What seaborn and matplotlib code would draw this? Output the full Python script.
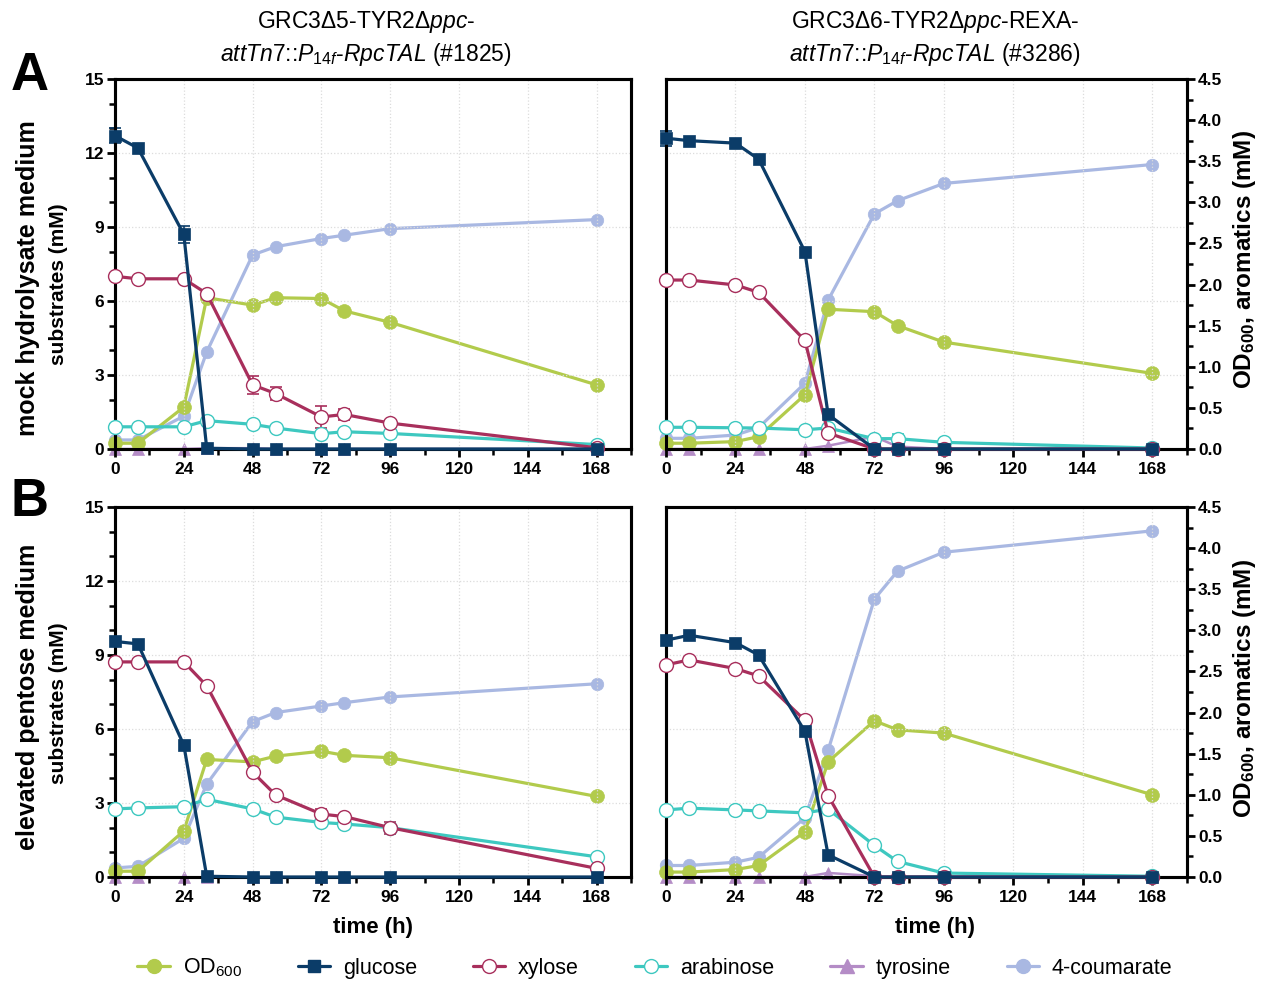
import numpy as np
import pandas as pd
import matplotlib
matplotlib.use("Agg")
import matplotlib.pyplot as plt
import seaborn as sns
from matplotlib.lines import Line2D
from matplotlib.ticker import MultipleLocator

# ---------------- data ----------------
time_h = [0, 8, 24, 32, 48, 56, 72, 80, 96, 168]

# Panel A, left (#1825, mock hydrolysate medium)
A1_od600 = [0.07, 0.07, 0.51, 1.84, 1.75, 1.84, 1.83, 1.68, 1.54, 0.78]
A1_glucose = [12.7, 12.2, 8.7, 0.03, 0.0, 0.0, 0.0, 0.0, 0.0, 0.0]
A1_xylose = [7.0, 6.9, 6.9, 6.3, 2.6, 2.25, 1.3, 1.4, 1.05, 0.05]
A1_arabinose = [0.9, 0.9, 0.9, 1.15, 1.0, 0.85, 0.62, 0.7, 0.63, 0.18]
A1_tyrosine = [0.0, 0.0, 0.0, 0.01, 0.01, 0.0, 0.0, 0.0, 0.0, 0.0]
A1_coumarate = [0.11, 0.11, 0.40, 1.18, 2.36, 2.46, 2.56, 2.60, 2.68, 2.79]
A1_glucose_err = [0.3, 0.0, 0.35, 0, 0, 0, 0, 0, 0, 0]
A1_xylose_err = [0, 0, 0, 0, 0.35, 0.25, 0.45, 0.22, 0, 0]

# Panel A, right (#3286, mock hydrolysate medium)
A2_od600 = [0.07, 0.07, 0.09, 0.15, 0.66, 1.70, 1.67, 1.50, 1.30, 0.92]
A2_glucose = [12.6, 12.5, 12.4, 11.75, 8.0, 1.4, 0.0, 0.0, 0.0, 0.0]
A2_xylose = [6.85, 6.85, 6.65, 6.35, 4.4, 0.65, 0.0, 0.0, 0.0, 0.0]
A2_arabinose = [0.88, 0.88, 0.86, 0.85, 0.78, 0.85, 0.42, 0.42, 0.27, 0.04]
A2_tyrosine = [0.0, 0.0, 0.0, 0.0, 0.0, 0.04, 0.15, 0.03, 0.0, 0.0]
A2_coumarate = [0.13, 0.13, 0.17, 0.26, 0.80, 1.81, 2.86, 3.02, 3.23, 3.46]
A2_glucose_err = [0.3, 0, 0, 0, 0, 0, 0, 0, 0, 0]
A2_arabinose_err = [0, 0, 0, 0, 0, 0, 0, 0.2, 0, 0]

# Panel B, left (#1825, elevated pentose medium)
B1_od600 = [0.07, 0.07, 0.56, 1.43, 1.40, 1.47, 1.53, 1.48, 1.45, 0.98]
B1_glucose = [9.55, 9.45, 5.35, 0.03, 0.0, 0.0, 0.0, 0.0, 0.0, 0.0]
B1_xylose = [8.72, 8.72, 8.72, 7.75, 4.25, 3.33, 2.55, 2.45, 2.0, 0.35]
B1_arabinose = [2.76, 2.8, 2.85, 3.15, 2.76, 2.43, 2.21, 2.15, 2.0, 0.82]
B1_tyrosine = [0.0, 0.0, 0.0, 0.0, 0.0, 0.0, 0.0, 0.0, 0.0, 0.0]
B1_coumarate = [0.11, 0.13, 0.47, 1.13, 1.89, 2.00, 2.08, 2.12, 2.19, 2.35]
B1_xylose_err = [0, 0, 0, 0, 0, 0, 0.2, 0, 0.25, 0]

# Panel B, right (#3286, elevated pentose medium)
B2_od600 = [0.06, 0.06, 0.09, 0.14, 0.55, 1.40, 1.90, 1.79, 1.75, 1.00]
B2_glucose = [9.6, 9.8, 9.5, 9.0, 5.9, 0.9, 0.0, 0.0, 0.0, 0.0]
B2_xylose = [8.6, 8.8, 8.45, 8.15, 6.35, 3.3, 0.0, 0.0, 0.0, 0.0]
B2_arabinose = [2.72, 2.79, 2.72, 2.68, 2.6, 2.75, 1.28, 0.63, 0.16, 0.03]
B2_tyrosine = [0.0, 0.0, 0.0, 0.0, 0.0, 0.05, 0.01, 0.0, 0.0, 0.0]
B2_coumarate = [0.14, 0.14, 0.18, 0.24, 0.72, 1.54, 3.38, 3.72, 3.95, 4.21]

x_ticks = [0, 24, 48, 72, 96, 120, 144, 168]
left_ticks = [0, 3, 6, 9, 12, 15]
right_ticks = [0.0, 0.5, 1.0, 1.5, 2.0, 2.5, 3.0, 3.5, 4.0, 4.5]

legend_labels = ["OD$_{600}$", "glucose", "xylose", "arabinose", "tyrosine", "4-coumarate"]

titles_left = [r"GRC3Δ5-TYR2Δ$\mathit{ppc}$-",
               r"$\mathit{attTn7}$::$\mathit{P}_{\mathit{14f}}$-$\mathit{RpcTAL}$ (#1825)"]
titles_right = [r"GRC3Δ6-TYR2Δ$\mathit{ppc}$-REXA-",
                r"$\mathit{attTn7}$::$\mathit{P}_{\mathit{14f}}$-$\mathit{RpcTAL}$ (#3286)"]
row_labels = ["mock hydrolysate medium", "elevated pentose medium"]

# ---------------- style ----------------
sns.set_theme(style="white")
plt.rcParams["font.family"] = ["Liberation Sans", "DejaVu Sans"]
plt.rcParams["mathtext.fontset"] = "custom"
plt.rcParams["mathtext.rm"] = "Liberation Sans"
plt.rcParams["mathtext.it"] = "Liberation Sans:italic"
plt.rcParams["mathtext.bf"] = "Liberation Sans:bold"
plt.rcParams["text.color"] = "black"
plt.rcParams["axes.labelcolor"] = "black"
plt.rcParams["xtick.color"] = "black"
plt.rcParams["ytick.color"] = "black"

C_OD = "#b2cb4c"
C_GLC = "#0b3c68"
C_XYL = "#a82f5c"
C_ARA = "#3ec8c0"
C_TYR = "#b48cc6"
C_CUM = "#a9b8e2"

W, H = 1266, 983
fig = plt.figure(figsize=(W / 100, H / 100), dpi=100)


def fx(px):
    return px / W


def fy(py):
    return 1 - py / H


def add_err(ax, vals, err, color):
    xs = [t for t, e in zip(time_h, err) if e > 0]
    ys = [v for v, e in zip(vals, err) if e > 0]
    es = [e for e in err if e > 0]
    if xs:
        ax.errorbar(xs, ys, yerr=es, fmt="none", ecolor=color, elinewidth=1.2,
                    capsize=4, capthick=1.2, zorder=2, clip_on=False)


def panel(rect, od, glc, xyl, ara, tyr, cum, is_left, errs):
    ax = fig.add_axes(rect)
    ax2 = ax.twinx()
    ax.set_zorder(ax2.get_zorder() + 1)
    ax.patch.set_visible(False)

    # aromatics / OD on right scale
    sns.lineplot(x=time_h, y=cum, ax=ax2, color=C_CUM, marker="o", markersize=9,
                 markeredgecolor=C_CUM, markeredgewidth=0.5, linewidth=2.3,
                 errorbar=None, clip_on=False, zorder=2)
    sns.lineplot(x=time_h, y=tyr, ax=ax2, color=C_TYR, marker="^", markersize=9,
                 markeredgecolor=C_TYR, markeredgewidth=0.5, linewidth=1.8,
                 errorbar=None, clip_on=False, zorder=3)
    sns.lineplot(x=time_h, y=od, ax=ax2, color=C_OD, marker="o", markersize=10,
                 markeredgecolor=C_OD, markeredgewidth=0.5, linewidth=2.3,
                 errorbar=None, clip_on=False, zorder=4)

    # substrates on left scale
    sns.lineplot(x=time_h, y=ara, ax=ax, color=C_ARA, marker="o", markersize=10,
                 markerfacecolor="white", markeredgecolor=C_ARA, markeredgewidth=1.0,
                 linewidth=2.3, errorbar=None, clip_on=False, zorder=3)
    sns.lineplot(x=time_h, y=xyl, ax=ax, color=C_XYL, marker="o", markersize=10,
                 markerfacecolor="white", markeredgecolor=C_XYL, markeredgewidth=1.0,
                 linewidth=2.3, errorbar=None, clip_on=False, zorder=4)
    sns.lineplot(x=time_h, y=glc, ax=ax, color=C_GLC, marker="s", markersize=9,
                 markeredgecolor=C_GLC, markeredgewidth=0.5, linewidth=2.3,
                 errorbar=None, clip_on=False, zorder=5)
    for (which, vals, err, col) in errs:
        add_err(ax if which == "L" else ax2, vals, err, col)

    ax.set_xlim(0, 180)
    ax.set_ylim(0, 15)
    ax2.set_ylim(0, 4.5)
    ax.set_xticks(x_ticks)
    ax.set_yticks(left_ticks)
    ax2.set_yticks(right_ticks)
    ax.xaxis.set_minor_locator(MultipleLocator(12))
    ax.yaxis.set_minor_locator(MultipleLocator(1))
    ax2.yaxis.set_minor_locator(MultipleLocator(0.25))
    ax.grid(True, which="major", color="#dcdcdc", linestyle=":", linewidth=0.9)
    ax2.grid(False)
    ax.set_xlabel("")
    ax.set_ylabel("")
    ax2.set_ylabel("")

    for a in (ax, ax2):
        for s in a.spines.values():
            s.set_visible(True)
            s.set_linewidth(2.2)
            s.set_color("black")

    ax.tick_params(axis="x", which="major", bottom=True, direction="out", length=6,
                   width=2, labelsize=12.5, pad=3, colors="black")
    ax.tick_params(axis="x", which="minor", bottom=True, direction="out", length=4,
                   width=1.8)
    if is_left:
        ax.tick_params(axis="y", which="major", left=True, direction="out", length=6,
                       width=2, labelsize=12.5, pad=2, colors="black")
        ax.tick_params(axis="y", which="minor", left=True, direction="out", length=4,
                       width=1.8)
        ax2.tick_params(axis="y", which="both", right=False, labelright=False)
    else:
        ax.tick_params(axis="y", which="both", left=False, labelleft=False)
        ax2.tick_params(axis="y", which="major", right=True, direction="out", length=6,
                        width=2, labelsize=12.5, pad=2, colors="black")
        ax2.tick_params(axis="y", which="minor", right=True, direction="out", length=4,
                        width=1.8)
        ax2.set_yticklabels([f"{v:.1f}" for v in right_ticks])
    for lbl in ax.get_xticklabels() + ax.get_yticklabels() + ax2.get_yticklabels():
        lbl.set_fontweight("bold")
    return ax, ax2


XL0, XL1 = 115, 631
XR0, XR1 = 666, 1187
YA0, YA1 = 79, 449
YB0, YB1 = 507, 877


def rect(x0, x1, y0, y1):
    return [fx(x0), fy(y1), fx(x1) - fx(x0), fy(y0) - fy(y1)]


panel(rect(XL0, XL1, YA0, YA1), A1_od600, A1_glucose, A1_xylose, A1_arabinose,
      A1_tyrosine, A1_coumarate, True,
      [("L", A1_glucose, A1_glucose_err, C_GLC), ("L", A1_xylose, A1_xylose_err, C_XYL)])
panel(rect(XR0, XR1, YA0, YA1), A2_od600, A2_glucose, A2_xylose, A2_arabinose,
      A2_tyrosine, A2_coumarate, False,
      [("L", A2_glucose, A2_glucose_err, C_GLC), ("L", A2_arabinose, A2_arabinose_err, C_ARA)])
panel(rect(XL0, XL1, YB0, YB1), B1_od600, B1_glucose, B1_xylose, B1_arabinose,
      B1_tyrosine, B1_coumarate, True,
      [("L", B1_xylose, B1_xylose_err, C_XYL)])
panel(rect(XR0, XR1, YB0, YB1), B2_od600, B2_glucose, B2_xylose, B2_arabinose,
      B2_tyrosine, B2_coumarate, False, [])

# titles
fig.text(fx(366), fy(22), titles_left[0], ha="center", va="center", fontsize=16.5)
fig.text(fx(366), fy(55), titles_left[1], ha="center", va="center", fontsize=16.5)
fig.text(fx(935), fy(22), titles_right[0], ha="center", va="center", fontsize=16.5)
fig.text(fx(935), fy(55), titles_right[1], ha="center", va="center", fontsize=16.5)

# panel letters
fig.text(fx(30), fy(76), "A", ha="center", va="center", fontsize=38, fontweight="bold")
fig.text(fx(30), fy(502), "B", ha="center", va="center", fontsize=38, fontweight="bold")

# y labels
for yc, lab in [((YA0 + YA1) / 2 + 14, row_labels[0]), ((YB0 + YB1) / 2 + 5, row_labels[1])]:
    fig.text(fx(28), fy(yc), lab, rotation=90, ha="center", va="center",
             fontsize=18, fontweight="bold")
    fig.text(fx(58), fy(yc + 6), "substrates (mM)", rotation=90, ha="center",
             va="center", fontsize=15, fontweight="bold")
for yc in [(YA0 + YA1) / 2 - 5, (YB0 + YB1) / 2 - 4]:
    fig.text(fx(1245), fy(yc), r"OD$_{\mathbf{600}}$, aromatics (mM)", rotation=90,
             ha="center", va="center", fontsize=17.5, fontweight="bold")

# x labels
fig.text(fx(373), fy(928), "time (h)", ha="center", va="center", fontsize=16,
         fontweight="bold")
fig.text(fx(935), fy(928), "time (h)", ha="center", va="center", fontsize=16,
         fontweight="bold")

# legend
handles = [
    Line2D([0], [0], color=C_OD, lw=2.3, marker="o", ms=10, mfc=C_OD, mec=C_OD),
    Line2D([0], [0], color=C_GLC, lw=2.3, marker="s", ms=9, mfc=C_GLC, mec=C_GLC),
    Line2D([0], [0], color=C_XYL, lw=2.3, marker="o", ms=10, mfc="white", mec=C_XYL),
    Line2D([0], [0], color=C_ARA, lw=2.3, marker="o", ms=10, mfc="white", mec=C_ARA),
    Line2D([0], [0], color=C_TYR, lw=2.3, marker="^", ms=10, mfc=C_TYR, mec=C_TYR),
    Line2D([0], [0], color=C_CUM, lw=2.3, marker="o", ms=10, mfc=C_CUM, mec=C_CUM),
]
fig.legend(handles, legend_labels, loc="center", bbox_to_anchor=(fx(655), fy(968)),
           ncol=6, frameon=False, fontsize=15.5, handlelength=1.5, handletextpad=0.6,
           columnspacing=2.6)

fig.savefig("out.png", dpi=100, facecolor="white")
